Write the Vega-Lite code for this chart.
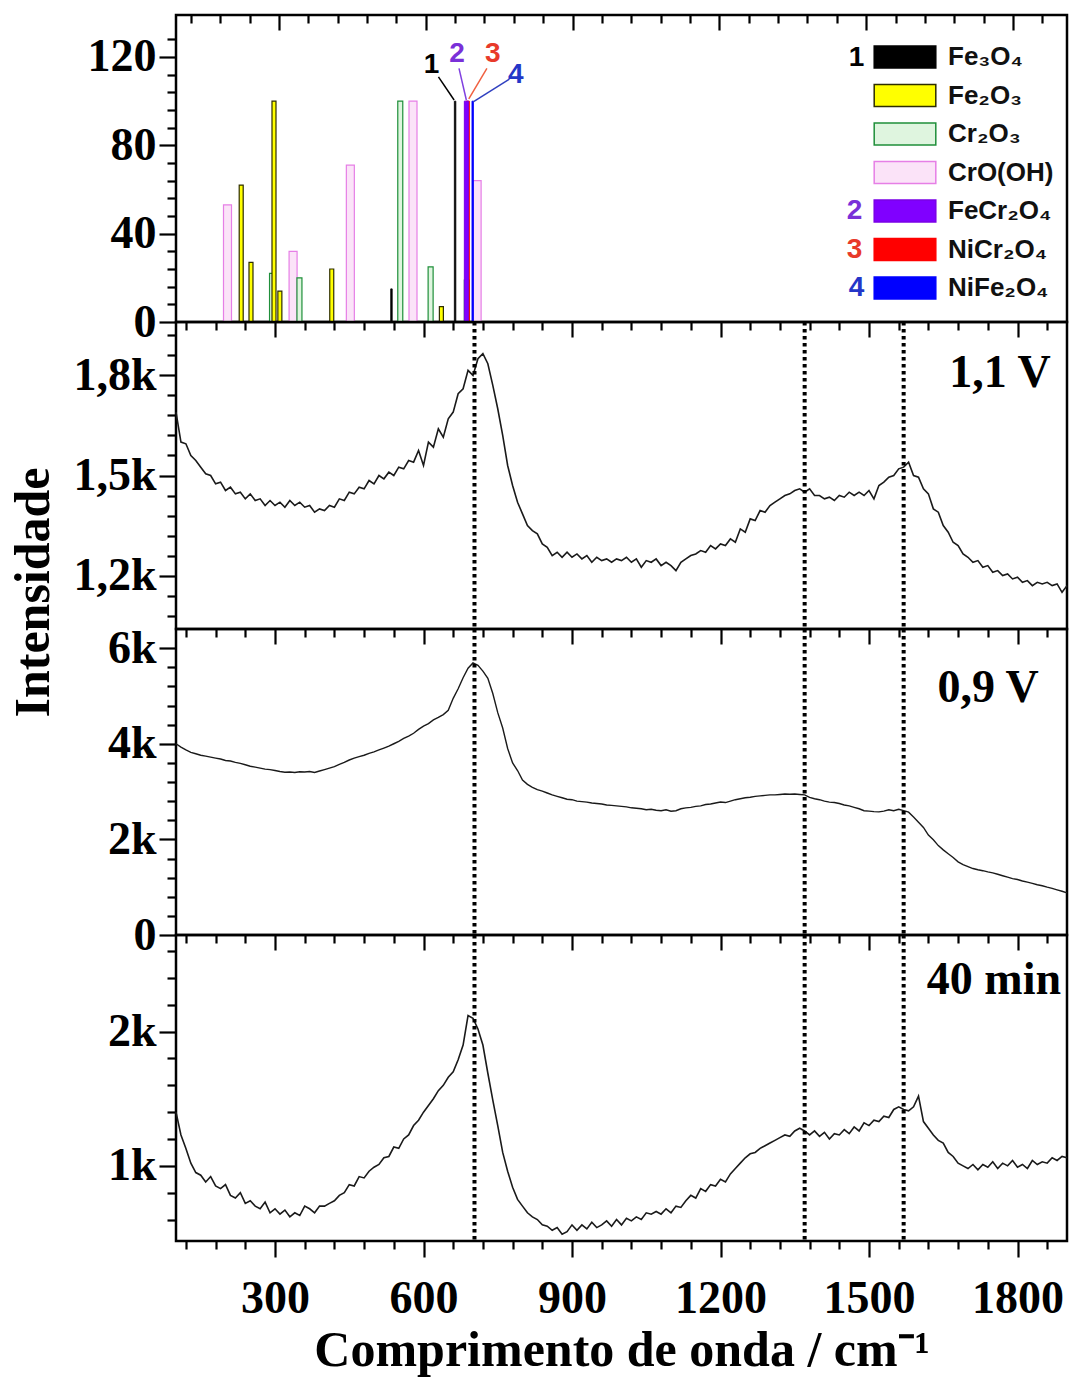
{
"$schema": "https://vega.github.io/schema/vega-lite/v6.json",
"background": "white",
"padding": {"left": 6, "top": 12, "right": 2, "bottom": 2},
"spacing": 0,
"bounds": "flush",
"config": {
  "view": {"stroke": "#000000", "strokeWidth": 2.5},
  "axis": {"labelFont": "Liberation Serif", "labelFontWeight": "bold", "labelFontSize": 46, "labelColor": "#000000", "titleFont": "Liberation Serif", "titleFontWeight": "bold", "titleFontSize": 50, "titleColor": "#000000", "domain": false, "grid": false, "tickColor": "#000000", "tickWidth": 2.2, "labelOverlap": false, "labelFlush": false, "labelBound": false}
},
"datasets": {
  "peaks": [{"p": 703}, {"p": 1370}, {"p": 1570}],
  "bars": [
    {"phase":"CrO(OH)","w":195,"i":53},
    {"phase":"CrO(OH)","w":329,"i":32},
    {"phase":"CrO(OH)","w":446,"i":71},
    {"phase":"CrO(OH)","w":574,"i":100},
    {"phase":"CrO(OH)","w":705,"i":64},
    {"phase":"Cr₂O₃","w":286,"i":22},
    {"phase":"Cr₂O₃","w":342,"i":20},
    {"phase":"Cr₂O₃","w":548,"i":100},
    {"phase":"Cr₂O₃","w":610,"i":25},
    {"phase":"Cr₂O₃","w":684,"i":19},
    {"phase":"Fe₂O₃","w":223,"i":62},
    {"phase":"Fe₂O₃","w":243,"i":27},
    {"phase":"Fe₂O₃","w":290,"i":100},
    {"phase":"Fe₂O₃","w":302,"i":14},
    {"phase":"Fe₂O₃","w":408,"i":24},
    {"phase":"Fe₂O₃","w":632,"i":7},
    {"phase":"Fe₃O₄","w":530,"i":15},
    {"phase":"Fe₃O₄","w":660,"i":100},
    {"phase":"NiCr₂O₄","w":686,"i":100},
    {"phase":"FeCr₂O₄","w":683,"i":100},
    {"phase":"NiFe₂O₄","w":696,"i":100}
  ],
  "spec": [
{"w":100,"a":1690,"b":4000,"c":1400},{"w":110,"a":1600,"b":3930,"c":1230},{"w":120,"a":1595,"b":3870,"c":1130},{"w":130,"a":1560,"b":3820,"c":1020},{"w":140,"a":1545,"b":3790,"c":950},{"w":150,"a":1525,"b":3760,"c":930},{"w":160,"a":1505,"b":3740,"c":880},{"w":170,"a":1500,"b":3720,"c":920},{"w":180,"a":1475,"b":3700,"c":850},{"w":190,"a":1480,"b":3680,"c":830},
{"w":200,"a":1455,"b":3650,"c":860},{"w":210,"a":1465,"b":3640,"c":780},{"w":220,"a":1445,"b":3610,"c":760},{"w":230,"a":1450,"b":3590,"c":800},{"w":240,"a":1430,"b":3560,"c":720},{"w":250,"a":1445,"b":3530,"c":740},{"w":260,"a":1425,"b":3510,"c":700},{"w":270,"a":1430,"b":3490,"c":680},{"w":280,"a":1410,"b":3470,"c":730},{"w":290,"a":1425,"b":3460,"c":650},
{"w":300,"a":1410,"b":3440,"c":680},{"w":310,"a":1420,"b":3420,"c":640},{"w":320,"a":1405,"b":3405,"c":670},{"w":330,"a":1425,"b":3410,"c":620},{"w":340,"a":1410,"b":3400,"c":650},{"w":350,"a":1420,"b":3415,"c":630},{"w":360,"a":1405,"b":3410,"c":700},{"w":370,"a":1410,"b":3420,"c":680},{"w":380,"a":1390,"b":3400,"c":650},{"w":390,"a":1400,"b":3430,"c":700},
{"w":400,"a":1395,"b":3460,"c":700},{"w":410,"a":1410,"b":3490,"c":720},{"w":420,"a":1405,"b":3520,"c":740},{"w":430,"a":1430,"b":3570,"c":780},{"w":440,"a":1425,"b":3610,"c":800},{"w":450,"a":1450,"b":3660,"c":860},{"w":460,"a":1445,"b":3700,"c":850},{"w":470,"a":1465,"b":3730,"c":920},{"w":480,"a":1460,"b":3760,"c":910},{"w":490,"a":1485,"b":3800,"c":960},
{"w":500,"a":1475,"b":3830,"c":990},{"w":510,"a":1500,"b":3870,"c":1010},{"w":520,"a":1490,"b":3910,"c":1060},{"w":530,"a":1510,"b":3950,"c":1070},{"w":540,"a":1500,"b":4000,"c":1140},{"w":550,"a":1525,"b":4050,"c":1130},{"w":560,"a":1520,"b":4110,"c":1200},{"w":570,"a":1545,"b":4160,"c":1230},{"w":580,"a":1540,"b":4220,"c":1300},{"w":590,"a":1575,"b":4300,"c":1340},
{"w":600,"a":1530,"b":4370,"c":1400},{"w":610,"a":1600,"b":4420,"c":1450},{"w":620,"a":1585,"b":4500,"c":1500},{"w":630,"a":1640,"b":4550,"c":1560},{"w":640,"a":1615,"b":4610,"c":1600},{"w":650,"a":1670,"b":4700,"c":1660},{"w":660,"a":1690,"b":4950,"c":1700},{"w":670,"a":1745,"b":5150,"c":1790},{"w":680,"a":1760,"b":5380,"c":1900},{"w":690,"a":1815,"b":5580,"c":2120},
{"w":700,"a":1800,"b":5690,"c":2100},{"w":710,"a":1850,"b":5640,"c":2020},{"w":720,"a":1865,"b":5520,"c":1900},{"w":730,"a":1835,"b":5370,"c":1690},{"w":740,"a":1770,"b":5050,"c":1490},{"w":750,"a":1700,"b":4650,"c":1300},{"w":760,"a":1620,"b":4330,"c":1100},{"w":770,"a":1530,"b":3900,"c":960},{"w":780,"a":1470,"b":3600,"c":840},{"w":790,"a":1420,"b":3440,"c":750},
{"w":800,"a":1385,"b":3240,"c":700},{"w":810,"a":1350,"b":3150,"c":650},{"w":820,"a":1335,"b":3090,"c":620},{"w":830,"a":1325,"b":3040,"c":600},{"w":840,"a":1295,"b":3010,"c":560},{"w":850,"a":1285,"b":2970,"c":550},{"w":860,"a":1260,"b":2930,"c":520},{"w":870,"a":1270,"b":2900,"c":540},{"w":880,"a":1255,"b":2870,"c":490},{"w":890,"a":1270,"b":2840,"c":510},
{"w":900,"a":1255,"b":2830,"c":560},{"w":910,"a":1265,"b":2800,"c":520},{"w":920,"a":1250,"b":2790,"c":560},{"w":930,"a":1260,"b":2780,"c":530},{"w":940,"a":1240,"b":2760,"c":580},{"w":950,"a":1255,"b":2750,"c":540},{"w":960,"a":1245,"b":2740,"c":560},{"w":970,"a":1250,"b":2720,"c":590},{"w":980,"a":1240,"b":2710,"c":550},{"w":990,"a":1250,"b":2700,"c":600},
{"w":1000,"a":1245,"b":2690,"c":560},{"w":1010,"a":1255,"b":2680,"c":610},{"w":1020,"a":1240,"b":2660,"c":590},{"w":1030,"a":1250,"b":2650,"c":620},{"w":1040,"a":1225,"b":2640,"c":600},{"w":1050,"a":1245,"b":2620,"c":650},{"w":1060,"a":1240,"b":2630,"c":640},{"w":1070,"a":1250,"b":2610,"c":660},{"w":1080,"a":1230,"b":2600,"c":640},{"w":1090,"a":1240,"b":2620,"c":680},
{"w":1100,"a":1230,"b":2590,"c":650},{"w":1110,"a":1215,"b":2600,"c":700},{"w":1120,"a":1240,"b":2640,"c":690},{"w":1130,"a":1250,"b":2660,"c":740},{"w":1140,"a":1260,"b":2670,"c":780},{"w":1150,"a":1265,"b":2690,"c":760},{"w":1160,"a":1275,"b":2700,"c":830},{"w":1170,"a":1270,"b":2730,"c":810},{"w":1180,"a":1290,"b":2740,"c":860},{"w":1190,"a":1280,"b":2760,"c":850},
{"w":1200,"a":1295,"b":2780,"c":900},{"w":1210,"a":1290,"b":2770,"c":880},{"w":1220,"a":1310,"b":2800,"c":940},{"w":1230,"a":1300,"b":2830,"c":980},{"w":1240,"a":1340,"b":2850,"c":1020},{"w":1250,"a":1330,"b":2870,"c":1060},{"w":1260,"a":1370,"b":2880,"c":1090},{"w":1270,"a":1365,"b":2900,"c":1100},{"w":1280,"a":1395,"b":2910,"c":1130},{"w":1290,"a":1390,"b":2920,"c":1150},
{"w":1300,"a":1410,"b":2930,"c":1170},{"w":1310,"a":1420,"b":2930,"c":1190},{"w":1320,"a":1430,"b":2940,"c":1210},{"w":1330,"a":1440,"b":2950,"c":1230},{"w":1340,"a":1445,"b":2945,"c":1220},{"w":1350,"a":1455,"b":2950,"c":1260},{"w":1360,"a":1460,"b":2940,"c":1280},{"w":1370,"a":1450,"b":2930,"c":1260},{"w":1380,"a":1460,"b":2880,"c":1230},{"w":1390,"a":1440,"b":2850,"c":1260},
{"w":1400,"a":1440,"b":2830,"c":1220},{"w":1410,"a":1430,"b":2800,"c":1250},{"w":1420,"a":1435,"b":2780,"c":1200},{"w":1430,"a":1425,"b":2770,"c":1240},{"w":1440,"a":1440,"b":2750,"c":1230},{"w":1450,"a":1435,"b":2720,"c":1270},{"w":1460,"a":1450,"b":2700,"c":1240},{"w":1470,"a":1440,"b":2670,"c":1290},{"w":1480,"a":1450,"b":2640,"c":1260},{"w":1490,"a":1440,"b":2600,"c":1320},
{"w":1500,"a":1455,"b":2590,"c":1300},{"w":1510,"a":1430,"b":2580,"c":1340},{"w":1520,"a":1470,"b":2575,"c":1330},{"w":1530,"a":1480,"b":2590,"c":1370},{"w":1540,"a":1495,"b":2620,"c":1360},{"w":1550,"a":1500,"b":2600,"c":1420},{"w":1560,"a":1520,"b":2630,"c":1440},{"w":1570,"a":1525,"b":2600,"c":1420},{"w":1580,"a":1540,"b":2570,"c":1410},{"w":1590,"a":1500,"b":2470,"c":1440},
{"w":1600,"a":1495,"b":2360,"c":1520},{"w":1610,"a":1460,"b":2250,"c":1330},{"w":1620,"a":1445,"b":2090,"c":1280},{"w":1630,"a":1400,"b":1990,"c":1230},{"w":1640,"a":1390,"b":1870,"c":1190},{"w":1650,"a":1350,"b":1780,"c":1170},{"w":1660,"a":1330,"b":1700,"c":1100},{"w":1670,"a":1300,"b":1620,"c":1070},{"w":1680,"a":1290,"b":1530,"c":1020},{"w":1690,"a":1265,"b":1470,"c":1000},
{"w":1700,"a":1255,"b":1430,"c":980},{"w":1710,"a":1240,"b":1390,"c":1010},{"w":1720,"a":1245,"b":1365,"c":970},{"w":1730,"a":1225,"b":1345,"c":1010},{"w":1740,"a":1230,"b":1320,"c":990},{"w":1750,"a":1210,"b":1300,"c":1030},{"w":1760,"a":1215,"b":1270,"c":980},{"w":1770,"a":1200,"b":1240,"c":1020},{"w":1780,"a":1205,"b":1210,"c":1000},{"w":1790,"a":1190,"b":1180,"c":1040},
{"w":1800,"a":1195,"b":1160,"c":990},{"w":1810,"a":1180,"b":1130,"c":1010},{"w":1820,"a":1185,"b":1105,"c":980},{"w":1830,"a":1170,"b":1080,"c":1040},{"w":1840,"a":1180,"b":1050,"c":1010},{"w":1850,"a":1175,"b":1030,"c":1030},{"w":1860,"a":1180,"b":1000,"c":1020},{"w":1870,"a":1170,"b":975,"c":1060},{"w":1880,"a":1175,"b":945,"c":1040},{"w":1890,"a":1150,"b":915,"c":1070},
{"w":1900,"a":1170,"b":880,"c":1060}
  ]
},
"vconcat": [
 {
  "width": 891, "height": 307,
  "resolve": {"axis": {"x": "independent", "y": "independent"}},
  "layer": [
   {
    "data": {"name": "bars"},
    "encoding": {
      "x": {"field": "w", "type": "quantitative", "scale": {"domain": [100, 1900], "nice": false}, "axis": {"orient": "top", "labels": false, "title": null, "values": [120,180,240,300,360,420,480,540,600,660,720,780,840,900,960,1020,1080,1140,1200,1260,1320,1380,1440,1500,1560,1620,1680,1740,1800,1860], "tickSize": {"condition": {"test": "datum.value % 300 === 0", "value": -15}, "value": -8}}},
      "y": {"field": "i", "type": "quantitative", "stack": null, "scale": {"domain": [0, 139], "nice": false}, "axis": {"title": null, "labelPadding": 3, "values": [0,8,16,24,32,40,48,56,64,72,80,88,96,104,112,120,128], "labelExpr": "datum.value % 40 === 0 ? format(datum.value, 'd') : ''", "tickSize": {"condition": {"test": "datum.value % 40 === 0", "value": 17}, "value": 9}}},
      "fill": {"field": "phase", "type": "nominal", "scale": {"domain": ["Fe₃O₄","Fe₂O₃","Cr₂O₃","CrO(OH)","FeCr₂O₄","NiCr₂O₄","NiFe₂O₄"], "range": ["#000000","#ffff00","#dff5df","#fbe3f8","#8000ff","#ff0000","#0000ff"]},
        "legend": {"title": null, "orient": "none", "legendX": 716, "legendY": 29, "symbolType": "M-2.8,-1H2.8V1H-2.8Z", "symbolSize": 484, "symbolStrokeWidth": 1.5, "symbolOpacity": 1, "labelFont": "Liberation Sans", "labelFontSize": 26, "labelFontWeight": "bold", "labelColor": "#111111", "labelOffset": 30, "rowPadding": 10.5, "padding": 0, "labelLimit": 300}},
      "stroke": {"field": "phase", "type": "nominal", "scale": {"domain": ["Fe₃O₄","Fe₂O₃","Cr₂O₃","CrO(OH)","FeCr₂O₄","NiCr₂O₄","NiFe₂O₄"], "range": ["#000000","#2e2e00","#1f8f3a","#e67fe6","#7a00e6","#ff0000","#0000ff"]},
        "legend": {"title": null, "orient": "none", "legendX": 716, "legendY": 29, "symbolType": "M-2.8,-1H2.8V1H-2.8Z", "symbolSize": 484, "symbolStrokeWidth": 1.5, "symbolOpacity": 1, "labelFont": "Liberation Sans", "labelFontSize": 26, "labelFontWeight": "bold", "labelColor": "#111111", "labelOffset": 30, "rowPadding": 10.5, "padding": 0, "labelLimit": 300}}
    },
    "layer": [
      {"transform": [{"filter": {"field": "phase", "oneOf": ["CrO(OH)"]}}], "mark": {"type": "bar", "size": 8, "strokeWidth": 1.2}},
      {"transform": [{"filter": {"field": "phase", "oneOf": ["Cr₂O₃"]}}], "mark": {"type": "bar", "size": 5, "strokeWidth": 1.2}},
      {"transform": [{"filter": {"field": "phase", "oneOf": ["Fe₂O₃"]}}], "mark": {"type": "bar", "size": 4, "strokeWidth": 1.2}},
      {"transform": [{"filter": {"field": "phase", "oneOf": ["Fe₃O₄"]}}], "mark": {"type": "bar", "size": 1.5, "strokeWidth": 0.8}},
      {"transform": [{"filter": {"field": "phase", "oneOf": ["NiCr₂O₄"]}}], "mark": {"type": "bar", "size": 3, "strokeWidth": 1}},
      {"transform": [{"filter": {"field": "phase", "oneOf": ["FeCr₂O₄"]}}], "mark": {"type": "bar", "size": 4, "strokeWidth": 1}},
      {"transform": [{"filter": {"field": "phase", "oneOf": ["NiFe₂O₄"]}}], "mark": {"type": "bar", "size": 1.5, "strokeWidth": 0.8}}
    ]
   },
   {"data": {"values": [{}]}, "mark": {"type": "rule", "color": "#000000", "strokeWidth": 1.5},
    "encoding": {"x": {"datum": 626, "type": "quantitative", "axis": null}, "y": {"datum": 111, "type": "quantitative", "axis": null}, "x2": {"datum": 658}, "y2": {"datum": 100.5}}},
   {"data": {"values": [{}]}, "mark": {"type": "rule", "color": "#8040e0", "strokeWidth": 1.5},
    "encoding": {"x": {"datum": 668, "type": "quantitative", "axis": null}, "y": {"datum": 114.8, "type": "quantitative", "axis": null}, "x2": {"datum": 683}, "y2": {"datum": 100.5}}},
   {"data": {"values": [{}]}, "mark": {"type": "rule", "color": "#f06040", "strokeWidth": 1.5},
    "encoding": {"x": {"datum": 725, "type": "quantitative", "axis": null}, "y": {"datum": 114.8, "type": "quantitative", "axis": null}, "x2": {"datum": 688}, "y2": {"datum": 101}}},
   {"data": {"values": [{}]}, "mark": {"type": "rule", "color": "#3040c0", "strokeWidth": 1.5},
    "encoding": {"x": {"datum": 771, "type": "quantitative", "axis": null}, "y": {"datum": 110, "type": "quantitative", "axis": null}, "x2": {"datum": 697}, "y2": {"datum": 99.7}}},
   {"data": {"values": [{}]}, "mark": {"type": "text", "text": "1", "font": "Liberation Sans", "fontWeight": "bold", "fontSize": 28, "color": "#000000", "align": "center", "baseline": "middle"},
    "encoding": {"x": {"datum": 612, "type": "quantitative", "axis": null}, "y": {"datum": 116.3, "type": "quantitative", "axis": null}}},
   {"data": {"values": [{}]}, "mark": {"type": "text", "text": "2", "font": "Liberation Sans", "fontWeight": "bold", "fontSize": 28, "color": "#7a30d8", "align": "center", "baseline": "middle"},
    "encoding": {"x": {"datum": 664, "type": "quantitative", "axis": null}, "y": {"datum": 121.5, "type": "quantitative", "axis": null}}},
   {"data": {"values": [{}]}, "mark": {"type": "text", "text": "3", "font": "Liberation Sans", "fontWeight": "bold", "fontSize": 28, "color": "#e83a2a", "align": "center", "baseline": "middle"},
    "encoding": {"x": {"datum": 737, "type": "quantitative", "axis": null}, "y": {"datum": 121.5, "type": "quantitative", "axis": null}}},
   {"data": {"values": [{}]}, "mark": {"type": "text", "text": "4", "font": "Liberation Sans", "fontWeight": "bold", "fontSize": 28, "color": "#2436c8", "align": "center", "baseline": "middle"},
    "encoding": {"x": {"datum": 784, "type": "quantitative", "axis": null}, "y": {"datum": 111.8, "type": "quantitative", "axis": null}}},
   {"data": {"values": [{}]}, "mark": {"type": "text", "text": "1", "font": "Liberation Sans", "fontWeight": "bold", "fontSize": 28, "color": "#000000", "align": "right", "baseline": "middle"},
    "encoding": {"x": {"datum": 1496, "type": "quantitative", "axis": null}, "y": {"datum": 119.5, "type": "quantitative", "axis": null}}},
   {"data": {"values": [{}]}, "mark": {"type": "text", "text": "2", "font": "Liberation Sans", "fontWeight": "bold", "fontSize": 28, "color": "#7a30d8", "align": "right", "baseline": "middle"},
    "encoding": {"x": {"datum": 1492, "type": "quantitative", "axis": null}, "y": {"datum": 50.2, "type": "quantitative", "axis": null}}},
   {"data": {"values": [{}]}, "mark": {"type": "text", "text": "3", "font": "Liberation Sans", "fontWeight": "bold", "fontSize": 28, "color": "#e83a2a", "align": "right", "baseline": "middle"},
    "encoding": {"x": {"datum": 1492, "type": "quantitative", "axis": null}, "y": {"datum": 32.6, "type": "quantitative", "axis": null}}},
   {"data": {"values": [{}]}, "mark": {"type": "text", "text": "4", "font": "Liberation Sans", "fontWeight": "bold", "fontSize": 28, "color": "#2436c8", "align": "right", "baseline": "middle"},
    "encoding": {"x": {"datum": 1496, "type": "quantitative", "axis": null}, "y": {"datum": 15.4, "type": "quantitative", "axis": null}}}
  ]
 },
 {
  "width": 891, "height": 307,
  "resolve": {"axis": {"x": "independent", "y": "independent"}},
  "layer": [
   {"data": {"name": "spec"}, "mark": {"type": "line", "color": "#1a1a1a", "strokeWidth": 1.6},
    "encoding": {
      "x": {"field": "w", "type": "quantitative", "scale": {"domain": [100, 1900], "nice": false}, "axis": {"orient": "top", "labels": false, "title": null, "values": [120,180,240,300,360,420,480,540,600,660,720,780,840,900,960,1020,1080,1140,1200,1260,1320,1380,1440,1500,1560,1620,1680,1740,1800,1860], "tickSize": {"condition": {"test": "datum.value % 300 === 0", "value": -15}, "value": -8}}},
      "y": {"field": "a", "type": "quantitative", "scale": {"domain": [1040, 1960], "nice": false, "zero": false}, "axis": {"title": null, "labelPadding": 3, "values": [1080,1140,1200,1260,1320,1380,1440,1500,1560,1620,1680,1740,1800,1860,1920], "labelExpr": "datum.value % 300 === 0 ? replace(format(datum.value / 1000, '.1f'), '.', ',') + 'k' : ''", "tickSize": {"condition": {"test": "datum.value % 300 === 0", "value": 17}, "value": 9}}}
    }},
   {"data": {"name": "peaks"}, "mark": {"type": "rule", "color": "#000000", "strokeWidth": 4, "strokeDash": [3.5, 3.5]},
    "encoding": {"x": {"field": "p", "type": "quantitative", "scale": {"domain": [100, 1900], "nice": false}, "axis": null}}},
   {"data": {"values": [{}]}, "mark": {"type": "text", "text": "1,1 V", "font": "Liberation Serif", "fontWeight": "bold", "fontSize": 46, "color": "#000000", "align": "right", "baseline": "middle"},
    "encoding": {"x": {"datum": 1867, "type": "quantitative", "axis": null}, "y": {"datum": 1806, "type": "quantitative", "axis": null}}}
  ]
 },
 {
  "width": 891, "height": 306,
  "resolve": {"axis": {"x": "independent", "y": "independent"}},
  "layer": [
   {"data": {"name": "spec"}, "mark": {"type": "line", "color": "#1a1a1a", "strokeWidth": 1.4},
    "encoding": {
      "x": {"field": "w", "type": "quantitative", "scale": {"domain": [100, 1900], "nice": false}, "axis": {"orient": "top", "labels": false, "title": null, "values": [120,180,240,300,360,420,480,540,600,660,720,780,840,900,960,1020,1080,1140,1200,1260,1320,1380,1440,1500,1560,1620,1680,1740,1800,1860], "tickSize": {"condition": {"test": "datum.value % 300 === 0", "value": -15}, "value": -8}}},
      "y": {"field": "b", "type": "quantitative", "scale": {"domain": [0, 6400], "nice": false}, "axis": {"title": "Intensidade", "titleX": -143, "titleY": -37, "titleAngle": -90, "titleBaseline": "middle", "titleAlign": "center", "labelPadding": 3, "values": [0,400,800,1200,1600,2000,2400,2800,3200,3600,4000,4400,4800,5200,5600,6000], "labelExpr": "datum.value % 2000 === 0 ? (datum.value === 0 ? '0' : format(datum.value / 1000, 'd') + 'k') : ''", "tickSize": {"condition": {"test": "datum.value % 2000 === 0", "value": 17}, "value": 9}}}
    }},
   {"data": {"name": "peaks"}, "mark": {"type": "rule", "color": "#000000", "strokeWidth": 4, "strokeDash": [3.5, 3.5]},
    "encoding": {"x": {"field": "p", "type": "quantitative", "scale": {"domain": [100, 1900], "nice": false}, "axis": null}}},
   {"data": {"values": [{}]}, "mark": {"type": "text", "text": "0,9 V", "font": "Liberation Serif", "fontWeight": "bold", "fontSize": 46, "color": "#000000", "align": "right", "baseline": "middle"},
    "encoding": {"x": {"datum": 1843, "type": "quantitative", "axis": null}, "y": {"datum": 5157, "type": "quantitative", "axis": null}}}
  ]
 },
 {
  "width": 891, "height": 306,
  "resolve": {"axis": {"x": "independent", "y": "independent"}},
  "layer": [
   {"data": {"name": "spec"}, "mark": {"type": "line", "color": "#1a1a1a", "strokeWidth": 1.6},
    "encoding": {
      "x": {"field": "w", "type": "quantitative", "scale": {"domain": [100, 1900], "nice": false}, "axis": {"orient": "top", "labels": false, "title": null, "values": [120,180,240,300,360,420,480,540,600,660,720,780,840,900,960,1020,1080,1140,1200,1260,1320,1380,1440,1500,1560,1620,1680,1740,1800,1860], "tickSize": {"condition": {"test": "datum.value % 300 === 0", "value": -15}, "value": -8}}},
      "y": {"field": "c", "type": "quantitative", "scale": {"domain": [440, 2720], "nice": false, "zero": false}, "axis": {"title": null, "labelPadding": 3, "values": [600,800,1000,1200,1400,1600,1800,2000,2200,2400,2600], "labelExpr": "datum.value % 1000 === 0 ? format(datum.value / 1000, 'd') + 'k' : ''", "tickSize": {"condition": {"test": "datum.value % 1000 === 0", "value": 17}, "value": 9}}}
    }},
   {"data": {"name": "peaks"}, "mark": {"type": "rule", "color": "#000000", "strokeWidth": 4, "strokeDash": [3.5, 3.5]},
    "encoding": {"x": {"field": "p", "type": "quantitative", "scale": {"domain": [100, 1900], "nice": false},
      "axis": {"orient": "bottom", "values": [120,180,240,300,360,420,480,540,600,660,720,780,840,900,960,1020,1080,1140,1200,1260,1320,1380,1440,1500,1560,1620,1680,1740,1800,1860], "labelExpr": "datum.value % 300 === 0 ? format(datum.value, 'd') : ''", "tickSize": {"condition": {"test": "datum.value % 300 === 0", "value": 16}, "value": 8}, "labelPadding": 19, "title": "Comprimento de onda / cm⁻¹", "titlePadding": 4}}}},
   {"data": {"values": [{}]}, "mark": {"type": "text", "text": "40 min", "font": "Liberation Serif", "fontWeight": "bold", "fontSize": 46, "color": "#000000", "align": "right", "baseline": "middle"},
    "encoding": {"x": {"datum": 1888, "type": "quantitative", "axis": null}, "y": {"datum": 2381, "type": "quantitative", "axis": null}}}
  ]
 }
]
}
